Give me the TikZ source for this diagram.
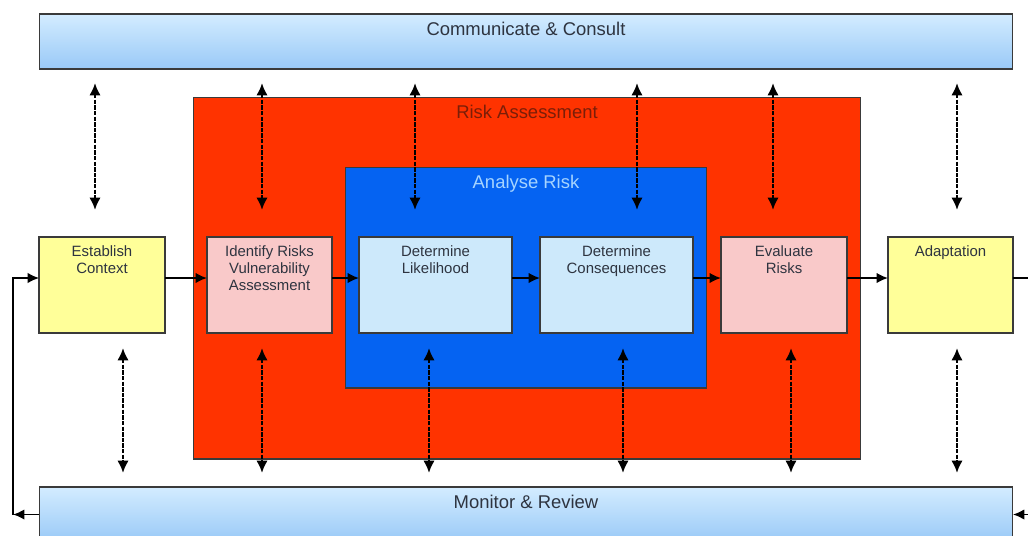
\documentclass[tikz,border=0pt]{standalone}
\usepackage{fontspec}
\setmainfont{Liberation Sans}
\usetikzlibrary{arrows.meta}
\tikzset{>={Latex[length=6.5pt,width=6pt]}}
\definecolor{bartop}{HTML}{D3ECFF}
\definecolor{barbottom}{HTML}{99C9F7}
\definecolor{assessred}{HTML}{FF3300}
\definecolor{assesstext}{HTML}{7A1E08}
\definecolor{analyseblue}{HTML}{0563F2}
\definecolor{analysetext}{HTML}{A6D4FF}
\definecolor{stepblue}{HTML}{CDE9FB}
\definecolor{steppink}{HTML}{F9C9C9}
\definecolor{stepyellow}{HTML}{FFFF99}
\definecolor{edgegray}{HTML}{3A3A3A}
\definecolor{labelgray}{HTML}{2E3440}
\tikzset{
  panel/.style={draw=edgegray, line width=0.6pt, inner sep=0pt, outer sep=0pt},
  banner/.style={panel, top color=bartop, bottom color=barbottom, minimum width=19.48cm, minimum height=1.1cm},
  stepbox/.style={panel, minimum height=1.92cm},
  headtext/.style={anchor=north, inner sep=4.5pt, text=labelgray, font=\fontsize{10.5}{12}\selectfont},
  boxtext/.style={anchor=north, inner sep=4.5pt, align=center, text=labelgray, font=\fontsize{8.5}{9.7}\selectfont},
  flow/.style={->, line width=1.1pt},
  vlink/.style={<->, line width=1.5pt, dash pattern=on 2.5pt off 0.7pt, >={Latex[length=7pt,width=6.5pt]}},
  toplink/.style={vlink, shorten <=0.28cm, shorten >=0.54cm},
  botlink/.style={vlink, shorten <=0.3cm, shorten >=0.28cm}
}

\begin{document}
\begin{tikzpicture}[x=0.02cm, y=-0.02cm]
  \useasboundingbox (0,0) rectangle (1028,535);
  % big panels
  \node[panel, fill=assessred, minimum width=13.36cm, minimum height=7.24cm, label={[headtext, text=assesstext]north:Risk Assessment}] (assess) at (527,278) {};
  \node[panel, fill=analyseblue, minimum width=7.24cm, minimum height=4.42cm, label={[headtext, text=analysetext]north:Analyse Risk}] (analyse) at (526,277.5) {};
  \node[banner, label={[headtext]north:Communicate \& Consult}] (consult) at (526,41.5) {};
  \node[banner, label={[headtext]north:Monitor \& Review}] (monitor) at (526,514.5) {};
  % process steps
  \node[stepbox, fill=stepyellow, minimum width=2.52cm, label={[boxtext]north:Establish\\Context}] (context) at (102,285) {};
  \node[stepbox, fill=steppink, minimum width=2.5cm, label={[boxtext]north:Identify Risks\\Vulnerability\\Assessment}] (identify) at (269.5,285) {};
  \node[stepbox, fill=stepblue, minimum width=3.06cm, label={[boxtext]north:Determine\\Likelihood}] (likely) at (435.5,285) {};
  \node[stepbox, fill=stepblue, minimum width=3.06cm, label={[boxtext]north:Determine\\Consequences}] (conseq) at (616.5,285) {};
  \node[stepbox, fill=steppink, minimum width=2.52cm, label={[boxtext]north:Evaluate\\Risks}] (evaluate) at (784,285) {};
  \node[stepbox, fill=stepyellow, minimum width=2.5cm, label={[boxtext]north:Adaptation}] (adapt) at (950.5,285) {};
  \coordinate (outR) at (1028,278);
  \coordinate (inR) at (1028,514.5);
  \coordinate (loopL) at (13,514.5);

  % main flow
  \draw[flow] ([yshift=0.14cm]context.east) -- ([yshift=0.14cm]identify.west);
  \draw[flow] ([yshift=0.14cm]identify.east) -- ([yshift=0.14cm]likely.west);
  \draw[flow] ([yshift=0.14cm]likely.east) -- ([yshift=0.14cm]conseq.west);
  \draw[flow] ([yshift=0.14cm]conseq.east) -- ([yshift=0.14cm]evaluate.west);
  \draw[flow] ([yshift=0.14cm]evaluate.east) -- ([yshift=0.14cm]adapt.west);
  \draw[line width=1.1pt] ([yshift=0.14cm]adapt.east) -- (outR);
  \draw[flow] (inR) -- (monitor.east);
  \draw[flow] (monitor.west) -- (loopL);
  \draw[->, line width=0.8pt] (loopL) |- ([yshift=0.14cm]context.west);

  % links to communicate & consult
  \draw[toplink] ([xshift=-0.14cm]context.north |- consult.south) -- ([xshift=-0.14cm]context.north);
  \draw[toplink] ([xshift=-0.15cm]identify.north |- consult.south) -- ([xshift=-0.15cm]identify.north);
  \draw[toplink] ([xshift=-0.41cm]likely.north |- consult.south) -- ([xshift=-0.41cm]likely.north);
  \draw[toplink] ([xshift=0.41cm]conseq.north |- consult.south) -- ([xshift=0.41cm]conseq.north);
  \draw[toplink] ([xshift=-0.22cm]evaluate.north |- consult.south) -- ([xshift=-0.22cm]evaluate.north);
  \draw[toplink] ([xshift=0.13cm]adapt.north |- consult.south) -- ([xshift=0.13cm]adapt.north);

  % links to monitor & review
  \draw[botlink] ([xshift=0.42cm]context.south) -- ([xshift=0.42cm]context.south |- monitor.north);
  \draw[botlink] ([xshift=-0.15cm]identify.south) -- ([xshift=-0.15cm]identify.south |- monitor.north);
  \draw[botlink] ([xshift=-0.13cm]likely.south) -- ([xshift=-0.13cm]likely.south |- monitor.north);
  \draw[botlink] ([xshift=0.13cm]conseq.south) -- ([xshift=0.13cm]conseq.south |- monitor.north);
  \draw[botlink] ([xshift=0.14cm]evaluate.south) -- ([xshift=0.14cm]evaluate.south |- monitor.north);
  \draw[botlink] ([xshift=0.13cm]adapt.south) -- ([xshift=0.13cm]adapt.south |- monitor.north);
\end{tikzpicture}
\end{document}
